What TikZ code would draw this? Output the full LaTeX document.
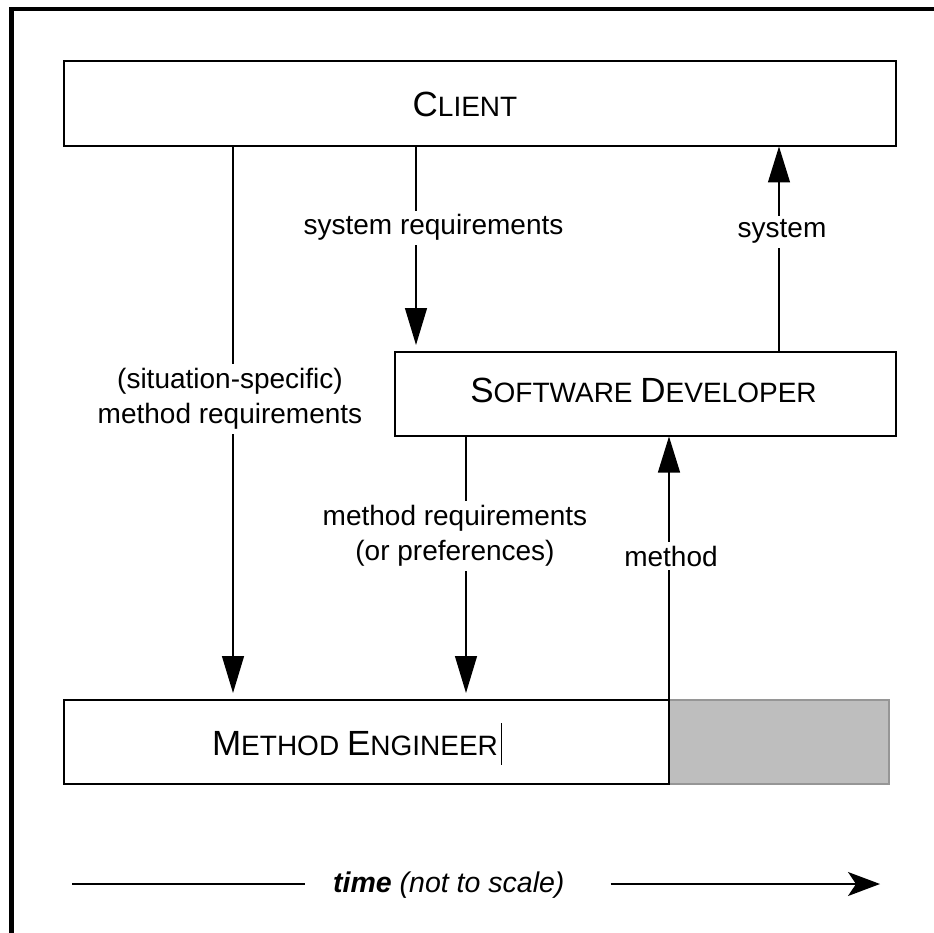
\documentclass[tikz,border=0pt]{standalone}
\usepackage{fontspec}
\setmainfont{Liberation Sans}
\usetikzlibrary{arrows.meta}

\definecolor{slotfill}{RGB}{190,190,190}
\definecolor{slotedge}{RGB}{150,150,150}

% fake small caps: full-size initials, reduced-size capitals for the rest
\newcommand\bigcapital[1]{{\fontsize{35}{42}\selectfont #1}}
\newcommand\smallcapital[1]{{\fontsize{28}{34}\selectfont #1}}

\tikzset{
  box/.style={draw, line width=1.6pt, inner sep=0pt, outer sep=0pt, anchor=north west},
  slot/.style={box, draw=slotedge, fill=slotfill},
  title/.style={inner sep=0pt, anchor=base, font=\fontsize{28}{34}\selectfont},
  lbl/.style={fill=white, inner sep=4pt, align=center,
              font=\fontsize{28}{35}\selectfont},
  conn/.style={line width=1.3pt},
  downarrow/.style={conn, -{Triangle[length=37pt,width=22pt]}, shorten >=7pt},
  uparrow/.style={conn, -{Triangle[length=36pt,width=22pt]}, shorten >=0.5pt},
  frame/.style={line width=4.5pt, line join=miter},
}

\begin{document}
\begin{tikzpicture}[x=1pt, y=-1pt]
  \useasboundingbox (0,0) rectangle (934,933);

  % outer frame (top and left edges)
  \draw[frame] (11.5,940) -- (11.5,9) -- (940,9);

  % actors
  \node[box, minimum width=832pt, minimum height=85pt] (client) at (64,61) {};
  \node[box, minimum width=501pt, minimum height=84pt] (sd) at (395,352) {};
  \node[slot, minimum width=220pt, minimum height=84pt] (later) at (669,700) {};
  \node[box, minimum width=605pt, minimum height=84pt] (me) at (64,700) {};

  \node[title] (clienttxt) at (465,117)
    {\bigcapital{C}\smallcapital{LIENT}};
  \node[title] (sdtxt) at (643.5,402)
    {\bigcapital{S}\smallcapital{OFTWARE} \bigcapital{D}\smallcapital{EVELOPER}};
  \node[title] (metxt) at (355,755)
    {\bigcapital{M}\smallcapital{ETHOD} \bigcapital{E}\smallcapital{NGINEER}};
  % text cursor after the last word
  \draw[line width=1pt] (501,723) -- (501,765);

  % connector columns
  \coordinate (colA) at (233,0);
  \coordinate (colB) at (416,0);
  \coordinate (colC) at (466,0);
  \coordinate (colE) at (779,0);

  % flows
  \draw[downarrow] (client.south -| colA) -- (me.north -| colA);
  \draw[downarrow] (client.south -| colB) -- (sd.north -| colB);
  \draw[uparrow]   (sd.north -| colE) -- (client.south -| colE);
  \draw[downarrow] (sd.south -| colC) -- (me.north -| colC);
  \draw[uparrow]   (me.north east) -- (sd.south -| me.north east);

  % flow labels
  \node[lbl, anchor=base] (l1) at (433.5,235) {system requirements};
  \node[lbl, anchor=base] (l2) at (782,238) {system};
  \node[lbl] (l3) at (230,399) {(situation-specific)\\method requirements};
  \node[lbl] (l4) at (455,536) {method requirements\\(or preferences)};
  \node[lbl, anchor=base] (l5) at (671,566) {method};

  % time axis
  \coordinate (tL) at (72,884);
  \coordinate (tR) at (880,884);
  \node[inner sep=0pt, anchor=base west, font=\fontsize{28.5}{35}\selectfont] (time) at (333,892)
    {\textbf{\textit{time}} \textit{(not to scale)}};
  \draw[conn, shorten >=28pt] (tL) -- (time.west |- tL);
  \draw[conn, -{Stealth[length=32pt,width=24pt,inset=8pt]}, shorten <=46pt]
    (time.east |- tR) -- (tR);
\end{tikzpicture}
\end{document}
